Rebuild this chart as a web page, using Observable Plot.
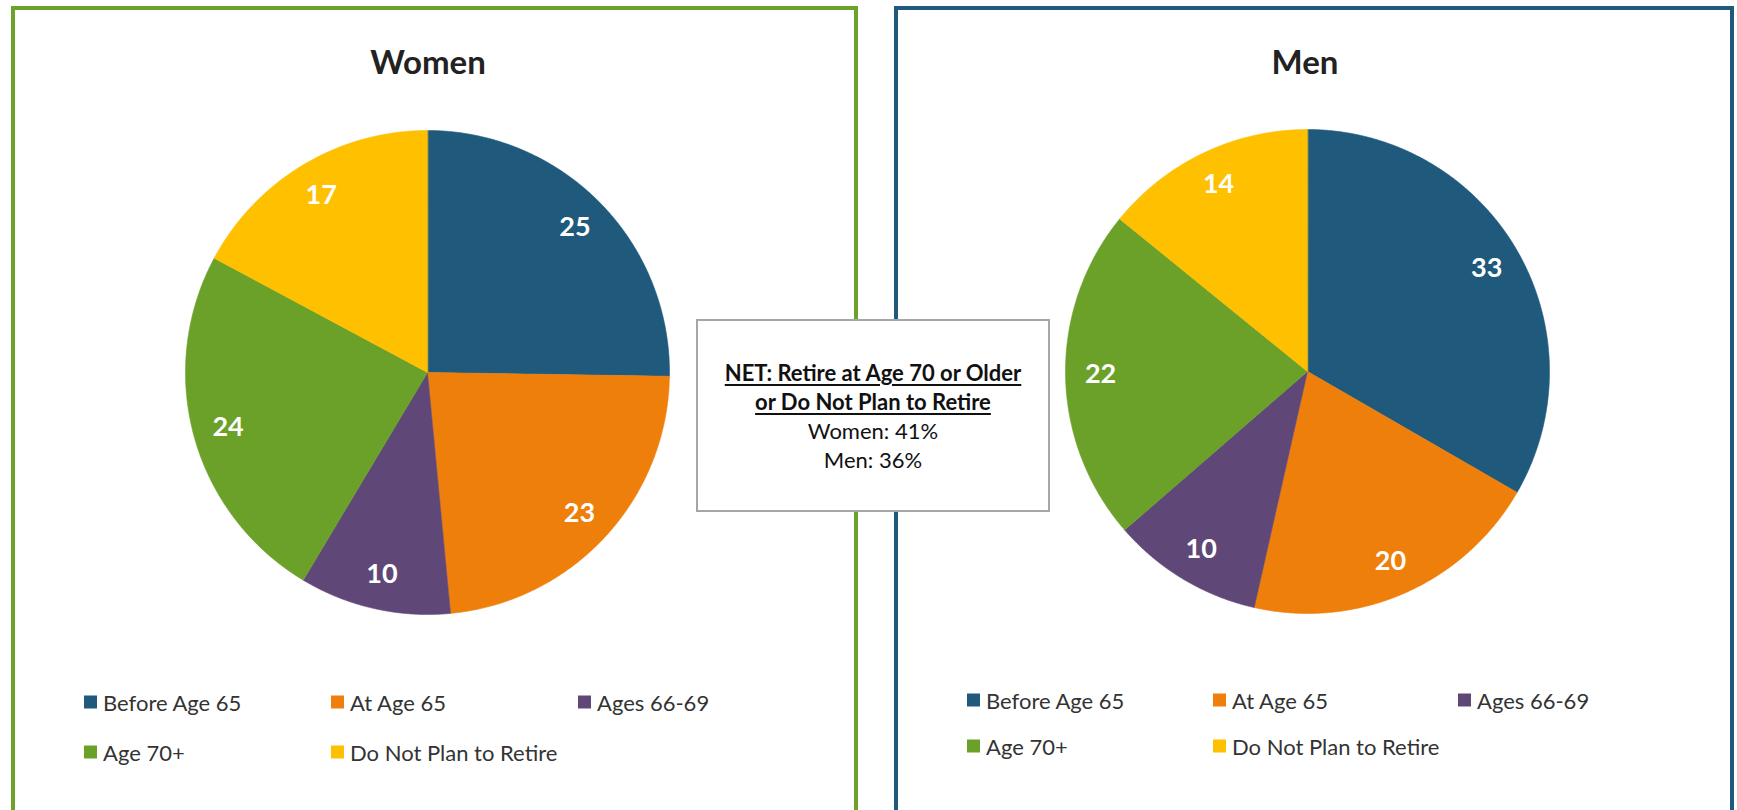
<!DOCTYPE html>
<html>
<head>
<meta charset="utf-8">
<script src="https://cdn.jsdelivr.net/npm/d3@7"></script>
<script src="https://cdn.jsdelivr.net/npm/@observablehq/plot@0.6"></script>
<style>
  html, body { margin: 0; padding: 0; background: #fff; }
  body { position: relative; width: 1737px; height: 810px; overflow: hidden; font-family: Lato, "Open Sans", sans-serif; }
  .panel { position: absolute; top: 6px; height: 900px; box-sizing: border-box; border: 4px solid; border-bottom: none; }
  .title { position: absolute; top: 40px; font-weight: 700; font-size: 33px; color: #222; transform: translateX(-50%); white-space: nowrap; line-height: 42px; }
  .pie { position: absolute; }
  .leg { position: absolute; display: flex; align-items: center; font-size: 22px; color: #333; white-space: nowrap; transform: translateY(-50%); }
  .sw { width: 13px; height: 13px; margin-right: 6px; }
  #netbox { position: absolute; left: 696px; top: 319px; width: 354px; height: 193px; box-sizing: border-box; border: 2px solid #A6A6A6; background: #fff; z-index: 5; display: flex; flex-direction: column; justify-content: center; align-items: center; font-size: 22px; line-height: 29px; color: #111; text-align: center; }
  #netbox .h { font-weight: 700; text-decoration: underline; text-decoration-thickness: 2px; text-underline-offset: 3px; }
</style>
</head>
<body>
<div class="panel" style="left:11px;width:847px;border-color:#6DA22A;"></div>
<div class="panel" style="left:894px;width:840px;border-color:#1F5A7D;"></div>
<div id="netbox"></div>
<script>
// ---- data ----
const categories = ["Before Age 65", "At Age 65", "Ages 66-69", "Age 70+", "Do Not Plan to Retire"];
const womenValues = [25, 23, 10, 24, 17];
const menValues = [33, 20, 10, 22, 14];
const colors = ["#1F5A7D", "#EF7F0B", "#5F4878", "#6BA128", "#FFC000"];
const panelTitles = ["Women", "Men"];
const netTitle = ["NET: Retire at Age 70 or Older", "or Do Not Plan to Retire"];
const netLines = ["Women: 41%", "Men: 36%"];

// ---- layout ----
const R = 242, S = 500;
const panels = [
  {title: panelTitles[0], values: womenValues, cx: 426.5, cy: 371.5, titleX: 428,
   legX: [84, 331, 578], legY: [702, 752]},
  {title: panelTitles[1], values: menValues, cx: 1306.5, cy: 370.5, titleX: 1305,
   legX: [967, 1213, 1458], legY: [700, 746]}
];

function pieData(values) {
  const total = d3.sum(values);
  const pts = [], labels = [];
  let acc = 0;
  values.forEach((v, i) => {
    const a0 = acc / total * 2 * Math.PI;
    acc += v;
    const a1 = acc / total * 2 * Math.PI;
    const n = Math.max(2, Math.ceil((a1 - a0) / (Math.PI / 720)));
    pts.push({cat: categories[i], x: 0, y: 0});
    for (let k = 0; k <= n; k++) {
      const a = a0 + (a1 - a0) * k / n;
      pts.push({cat: categories[i], x: Math.sin(a), y: Math.cos(a)});
    }
    const m = (a0 + a1) / 2;
    labels.push({cat: categories[i], value: v, x: 0.855 * Math.sin(m), y: 0.855 * Math.cos(m)});
  });
  return {pts, labels};
}

const half = S / (2 * R);
panels.forEach(p => {
  const {pts, labels} = pieData(p.values);
  const plot = Plot.plot({
    width: S, height: S,
    margin: 0,
    x: {domain: [-half, half], axis: null},
    y: {domain: [-half, half], axis: null},
    color: {domain: categories, range: colors},
    style: {background: "transparent", overflow: "visible"},
    marks: [
      Plot.line(pts, {x: "x", y: "y", z: "cat", fill: "cat", stroke: "cat", strokeWidth: 0.6, curve: "linear-closed"}),
      Plot.text(labels, {x: "x", y: "y", text: d => String(d.value), fill: "white", fontWeight: 700, fontSize: 27, fontFamily: "Lato"})
    ]
  });
  const wrap = document.createElement("div");
  wrap.className = "pie";
  wrap.style.left = (p.cx - S / 2) + "px";
  wrap.style.top = (p.cy - S / 2) + "px";
  wrap.appendChild(plot);
  document.body.appendChild(wrap);

  const t = document.createElement("div");
  t.className = "title";
  t.style.left = p.titleX + "px";
  t.textContent = p.title;
  document.body.appendChild(t);

  categories.forEach((c, i) => {
    const row = Math.floor(i / 3), col = i % 3;
    const el = document.createElement("div");
    el.className = "leg";
    el.style.left = p.legX[col] + "px";
    el.style.top = p.legY[row] + "px";
    const sw = document.createElement("div");
    sw.className = "sw";
    sw.style.background = colors[i];
    const tx = document.createElement("span");
    tx.textContent = c;
    el.appendChild(sw); el.appendChild(tx);
    document.body.appendChild(el);
  });
});

const box = document.getElementById("netbox");
netTitle.forEach(s => { const d = document.createElement("div"); d.className = "h"; d.textContent = s; box.appendChild(d); });
netLines.forEach(s => { const d = document.createElement("div"); d.textContent = s; box.appendChild(d); });
</script>
</body>
</html>
